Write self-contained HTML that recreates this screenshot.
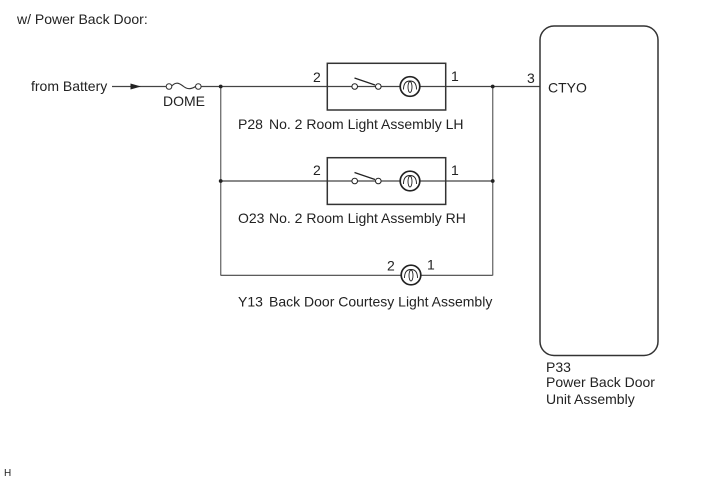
<!DOCTYPE html>
<html>
<head>
<meta charset="utf-8">
<style>
html,body{margin:0;padding:0;background:#fff;width:713px;height:481px;overflow:hidden}
svg{display:block}
text{font-family:"Liberation Sans",sans-serif;font-size:14px;fill:#222}
</style>
</head>
<body>
<svg width="713" height="481" viewBox="0 0 713 481" xmlns="http://www.w3.org/2000/svg">
<defs>
<g id="bulb" fill="none" stroke="#222">
<circle cx="0" cy="0" r="9.8" stroke-width="1.7" fill="#fff"/>
<path d="M-6.5 3 C-6.5 -3 -4 -5.5 0 -5.5 C4 -5.5 6.5 -3 6.5 3" stroke-width="0.9"/>
<ellipse cx="0" cy="0.5" rx="2" ry="5.5" stroke-width="0.9"/>
</g>
<g id="sw">
<line x1="354.5" y1="-8.5" x2="375" y2="-1.5" stroke="#222" stroke-width="1.2"/>
<circle cx="354.7" cy="0" r="2.8" fill="#fff" stroke="#222" stroke-width="1"/>
<circle cx="378.3" cy="0" r="2.8" fill="#fff" stroke="#222" stroke-width="1"/>
</g>
</defs>

<!-- vertical wires -->
<g stroke="#777" stroke-width="1.4" fill="none">
<line x1="220.7" y1="86.5" x2="220.7" y2="275.5"/>
<line x1="492.7" y1="86.5" x2="492.7" y2="275.5"/>
</g>
<!-- horizontal wires -->
<g stroke="#444" stroke-width="1.2" fill="none">
<line x1="112" y1="86.5" x2="166" y2="86.5"/>
<line x1="201" y1="86.5" x2="540" y2="86.5"/>
<line x1="220.7" y1="181" x2="492.7" y2="181"/>
<line x1="220.7" y1="275.3" x2="492.7" y2="275.3"/>
</g>

<!-- arrow -->
<polygon points="130.5,83.5 130.5,89.5 141,86.5" fill="#222"/>

<!-- fuse -->
<circle cx="169" cy="86.5" r="2.8" fill="#fff" stroke="#333" stroke-width="1"/>
<circle cx="198.3" cy="86.5" r="2.8" fill="#fff" stroke="#333" stroke-width="1"/>
<path d="M171.7 86 C176 81.5 179 83 183 86 C187 89.5 191 89.5 195.5 86.5" fill="none" stroke="#333" stroke-width="1.1"/>

<!-- junction dots -->
<g fill="#222">
<circle cx="220.7" cy="86.5" r="1.9"/>
<circle cx="220.7" cy="181" r="1.9"/>
<circle cx="492.7" cy="86.5" r="1.9"/>
<circle cx="492.7" cy="181" r="1.9"/>
</g>

<!-- boxes -->
<rect x="327.3" y="63.3" width="118.4" height="46.7" fill="none" stroke="#333" stroke-width="1.5"/>
<rect x="327.3" y="157.7" width="118.4" height="46.7" fill="none" stroke="#333" stroke-width="1.5"/>

<!-- switches -->
<use href="#sw" transform="translate(0,86.5)"/>
<use href="#sw" transform="translate(0,181)"/>

<!-- bulbs -->
<use href="#bulb" transform="translate(410,86.5)"/>
<use href="#bulb" transform="translate(410,181)"/>
<use href="#bulb" transform="translate(411,275)"/>

<!-- unit -->
<rect x="540" y="26" width="118" height="329.5" rx="14" ry="14" fill="none" stroke="#333" stroke-width="1.5"/>

<!-- labels -->
<text x="17" y="24">w/ Power Back Door:</text>
<text x="31" y="91">from Battery</text>
<text x="163" y="106">DOME</text>
<text x="313" y="82">2</text>
<text x="451" y="81">1</text>
<text x="527" y="83">3</text>
<text x="548" y="92.5">CTYO</text>
<text x="238" y="129">P28</text>
<text x="269" y="129">No. 2 Room Light Assembly LH</text>
<text x="313" y="175">2</text>
<text x="451" y="175">1</text>
<text x="238" y="223">O23</text>
<text x="269" y="223">No. 2 Room Light Assembly RH</text>
<text x="387" y="270.5">2</text>
<text x="427" y="269.5">1</text>
<text x="238" y="306.5">Y13</text>
<text x="269" y="306.5">Back Door Courtesy Light Assembly</text>
<text x="546" y="372">P33</text>
<text x="546" y="387">Power Back Door</text>
<text x="546" y="404">Unit Assembly</text>
<text x="4" y="476" style="font-size:10px">H</text>
</svg>
</body>
</html>
